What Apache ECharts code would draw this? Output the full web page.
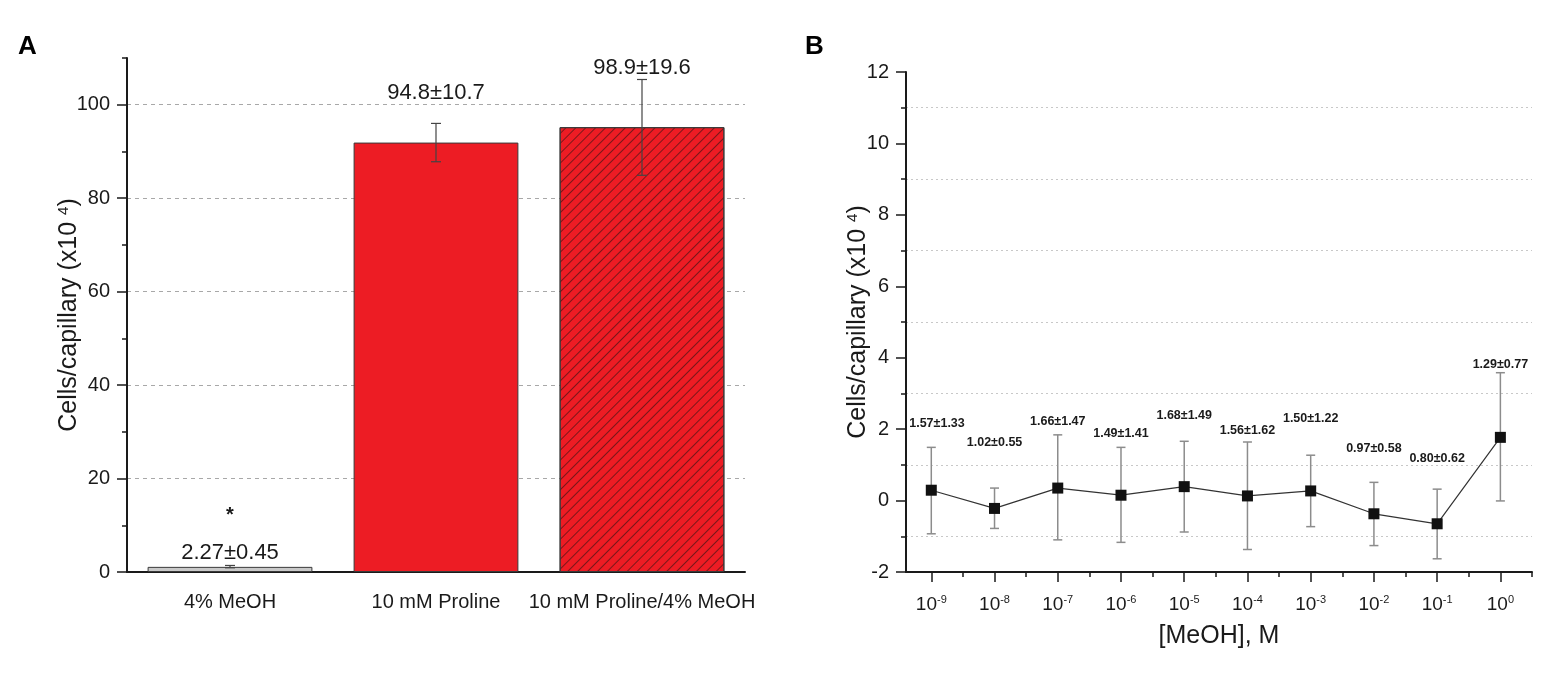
<!DOCTYPE html>
<html>
<head>
<meta charset="utf-8">
<title>Cells/capillary</title>
<script src="https://cdn.jsdelivr.net/npm/echarts@6.0.0/dist/echarts.min.js"></script>
<style>
	html, body { margin: 0; padding: 0; background: #fff; }
	#chart { width: 1562px; height: 683px; }
</style>
</head>
<body>
<div id="chart"></div>
<script>
// ---- panel A: bars ----
var catsA = ['4% MeOH', '10 mM Proline', '10 mM Proline/4% MeOH'];
var meanA = [1.1, 91.9, 95.2];
var lowA = [0.9, 87.8, 84.9];
var highA = [1.4, 96.0, 105.4];
var textA = ['2.27\u00b10.45', '94.8\u00b110.7', '98.9\u00b119.6'];
var textYA = [4.1, 102.5, 107.9];
var sigA = ['*', '', ''];
var sigYA = [12.2, 0, 0];
var yTicksA = [0, 20, 40, 60, 80, 100];

// ---- panel B: [MeOH] series ----
var expB = ['-9', '-8', '-7', '-6', '-5', '-4', '-3', '-2', '-1', '0'];
var meanB = [0.29, -0.22, 0.35, 0.15, 0.39, 0.13, 0.27, -0.37, -0.65, 1.77];
var lowB = [-0.93, -0.78, -1.10, -1.17, -0.88, -1.37, -0.73, -1.26, -1.63, -0.01];
var highB = [1.49, 0.35, 1.84, 1.49, 1.66, 1.64, 1.27, 0.51, 0.32, 3.58];
var textB = ['1.57\u00b11.33', '1.02\u00b10.55', '1.66\u00b11.47', '1.49\u00b11.41', '1.68\u00b11.49',
	'1.56\u00b11.62', '1.50\u00b11.22', '0.97\u00b10.58', '0.80\u00b10.62', '1.29\u00b10.77'];
var textYB = [2.15, 1.63, 2.21, 1.89, 2.38, 1.97, 2.31, 1.45, 1.18, 3.82];

var FONT = "'Liberation Sans', Arial, sans-serif";
var INK = '#1a1a1a';

var idxB = expB.map(function (e, i) { return i; });
var minorB = expB.map(function (e, i) { return i + 0.5; });

// error bar: vertical line with caps
function errBar(capW, color, width) {
	return function (params, api) {
		var x = api.value(0);
		var lo = api.coord([x, api.value(1)]);
		var hi = api.coord([x, api.value(2)]);
		var st = { stroke: color, lineWidth: width, fill: null };
		return {
			type: 'group',
			children: [
				{ type: 'line', shape: { x1: lo[0], y1: lo[1], x2: hi[0], y2: hi[1] }, style: st },
				{ type: 'line', shape: { x1: lo[0] - capW / 2, y1: lo[1], x2: lo[0] + capW / 2, y2: lo[1] }, style: st },
				{ type: 'line', shape: { x1: hi[0] - capW / 2, y1: hi[1], x2: hi[0] + capW / 2, y2: hi[1] }, style: st }
			]
		};
	};
}

// free text placed at a data position, kept right of the y axis
function textAt(labels, size, weight, keepIn) {
	return function (params, api) {
		var p = api.coord([api.value(0), api.value(1)]);
		var x = p[0];
		if (keepIn) {
			x = Math.max(x, params.coordSys.x + keepIn);
		}
		return {
			type: 'text',
			x: x, y: p[1],
			style: {
				text: labels[params.dataIndex],
				fontSize: size, fontWeight: weight, fontFamily: FONT,
				fill: INK, align: 'center', verticalAlign: 'middle'
			}
		};
	};
}

var barColors = ['#c9c9c9', '#ed1c24', '#ed1c24'];
var barData = meanA.map(function (v, i) {
	var item = {
		value: v,
		itemStyle: { color: barColors[i], borderColor: '#3a3a3a', borderWidth: 1 }
	};
	if (i === 2) {
		item.itemStyle.decal = {
			symbol: 'rect', symbolSize: 1,
			dashArrayX: [[1, 0]], dashArrayY: [1, 6],
			rotation: -Math.PI / 4,
			color: 'rgba(60,20,20,0.65)'
		};
	}
	return item;
});

var yNameRich = {
	t: { fontSize: 25, fontFamily: FONT, color: INK },
	s: { fontSize: 15, fontFamily: FONT, color: INK, padding: [0, 0, 12, 0] }
};

var chart = echarts.init(document.getElementById('chart'));
var option = {
	animation: false,
	backgroundColor: '#fff',
	textStyle: { fontFamily: FONT },
	title: [
		{ text: 'A', left: 18, top: 34, padding: 0, textStyle: { fontSize: 26, fontWeight: 'bold', color: '#000', fontFamily: FONT } },
		{ text: 'B', left: 805, top: 34, padding: 0, textStyle: { fontSize: 26, fontWeight: 'bold', color: '#000', fontFamily: FONT } }
	],
	grid: [
		{ left: 127, top: 58, width: 618, height: 514 },
		{ left: 906, top: 72, width: 626, height: 500 }
	],
	xAxis: [
		{
			gridIndex: 0, type: 'category', data: catsA,
			axisLine: { lineStyle: { color: INK, width: 2 } },
			axisTick: { alignWithLabel: true, length: 10, lineStyle: { color: INK, width: 1.5 } },
			axisLabel: { interval: 0, hideOverlap: false, fontSize: 20, color: INK, margin: 20, fontFamily: FONT },
			splitLine: { show: false }
		},
		{
			gridIndex: 1, type: 'value', min: -0.4, max: 9.5, position: 'bottom',
			axisLine: { onZero: false, lineStyle: { color: INK, width: 2 } },
			axisTick: { customValues: idxB, length: 10, lineStyle: { color: INK, width: 1.5 } },
			axisLabel: {
				customValues: idxB, margin: 22,
				formatter: function (v) { return '{b|10}{s|' + expB[Math.round(v)] + '}'; },
				rich: {
					b: { fontSize: 19, fontFamily: FONT, color: INK },
					s: { fontSize: 11, fontFamily: FONT, color: INK, padding: [0, 0, 10, 0] }
				}
			},
			splitLine: { show: false },
			name: '[MeOH], M', nameLocation: 'middle', nameGap: 52, nameMoveOverlap: false,
			nameTextStyle: { fontSize: 25, color: INK, fontFamily: FONT }
		},
		{
			gridIndex: 1, type: 'value', min: -0.4, max: 9.5, position: 'bottom',
			axisLine: { show: false, onZero: false },
			axisTick: { customValues: minorB, length: 5, lineStyle: { color: INK, width: 1.5 } },
			axisLabel: { show: false },
			splitLine: { show: false }
		}
	],
	yAxis: [
		{
			gridIndex: 0, type: 'value', min: 0, max: 110, interval: 10, position: 'left',
			axisLine: { show: true, lineStyle: { color: INK, width: 2 } },
			axisTick: { show: true, length: 5, lineStyle: { color: INK, width: 1.5 } },
			axisLabel: { show: false },
			splitLine: { show: false }
		},
		{
			gridIndex: 0, type: 'value', min: 0, max: 110, interval: 20, position: 'left',
			axisLine: { show: false },
			axisTick: { show: true, customValues: yTicksA, length: 10, lineStyle: { color: INK, width: 1.5 } },
			axisLabel: { customValues: yTicksA, fontSize: 20, color: INK, margin: 17, fontFamily: FONT },
			splitLine: {
				show: true, showMinLine: false, showMaxLine: true,
				lineStyle: { color: '#a8a8a8', type: [4, 4], width: 1 }
			},
			name: '{t|Cells/capillary (x10 }{s|4}{t|)}', nameLocation: 'middle', nameGap: 44, nameRotate: 90,
			nameMoveOverlap: false,
			nameTextStyle: { rich: yNameRich }
		},
		{
			gridIndex: 1, type: 'value', min: -2, max: 12, interval: 2, position: 'left',
			axisLine: { show: true, onZero: false, lineStyle: { color: INK, width: 2 } },
			axisTick: { show: true, length: 10, lineStyle: { color: INK, width: 1.5 } },
			minorTick: { show: true, splitNumber: 2, length: 5, lineStyle: { color: INK, width: 1.5 } },
			minorSplitLine: { show: true, lineStyle: { color: '#c8c8c8', type: [2, 3], width: 1 } },
			axisLabel: { fontSize: 20, color: INK, margin: 17, fontFamily: FONT },
			splitLine: { show: false },
			name: '{t|Cells/capillary (x10 }{s|4}{t|)}', nameLocation: 'middle', nameGap: 34, nameRotate: 90,
			nameMoveOverlap: false,
			nameTextStyle: { rich: yNameRich }
		}
	],
	series: [
		{
			type: 'bar', xAxisIndex: 0, yAxisIndex: 0, barCategoryGap: '20%',
			data: barData, z: 2
		},
		{
			type: 'custom', xAxisIndex: 0, yAxisIndex: 0, z: 5,
			renderItem: errBar(10, '#444', 1.2),
			encode: { x: 0, y: [1, 2] },
			data: meanA.map(function (v, i) { return [i, lowA[i], highA[i]]; })
		},
		{
			type: 'custom', xAxisIndex: 0, yAxisIndex: 0, z: 6,
			renderItem: textAt(textA, 22, 'normal'),
			encode: { x: 0, y: 1 },
			data: textYA.map(function (v, i) { return [i, v]; })
		},
		{
			type: 'custom', xAxisIndex: 0, yAxisIndex: 0, z: 6,
			renderItem: textAt(sigA, 20, 'bold'),
			encode: { x: 0, y: 1 },
			data: sigYA.map(function (v, i) { return [i, v]; })
		},
		{
			type: 'custom', xAxisIndex: 1, yAxisIndex: 2, z: 3,
			renderItem: errBar(9, '#8c8c8c', 1.5),
			encode: { x: 0, y: [1, 2] },
			data: meanB.map(function (v, i) { return [i, lowB[i], highB[i]]; })
		},
		{
			type: 'line', xAxisIndex: 1, yAxisIndex: 2, z: 4,
			symbol: 'rect', symbolSize: 11,
			itemStyle: { color: '#111' },
			lineStyle: { color: '#333', width: 1.2 },
			data: meanB.map(function (v, i) { return [i, v]; })
		},
		{
			type: 'custom', xAxisIndex: 1, yAxisIndex: 2, z: 6,
			renderItem: textAt(textB, 12.5, 'bold', 31),
			encode: { x: 0, y: 1 },
			data: textYB.map(function (v, i) { return [i, v]; })
		}
	]
};
chart.setOption(option);

window.onresize = function () {
	chart.resize();
};
</script>
</body>
</html>
